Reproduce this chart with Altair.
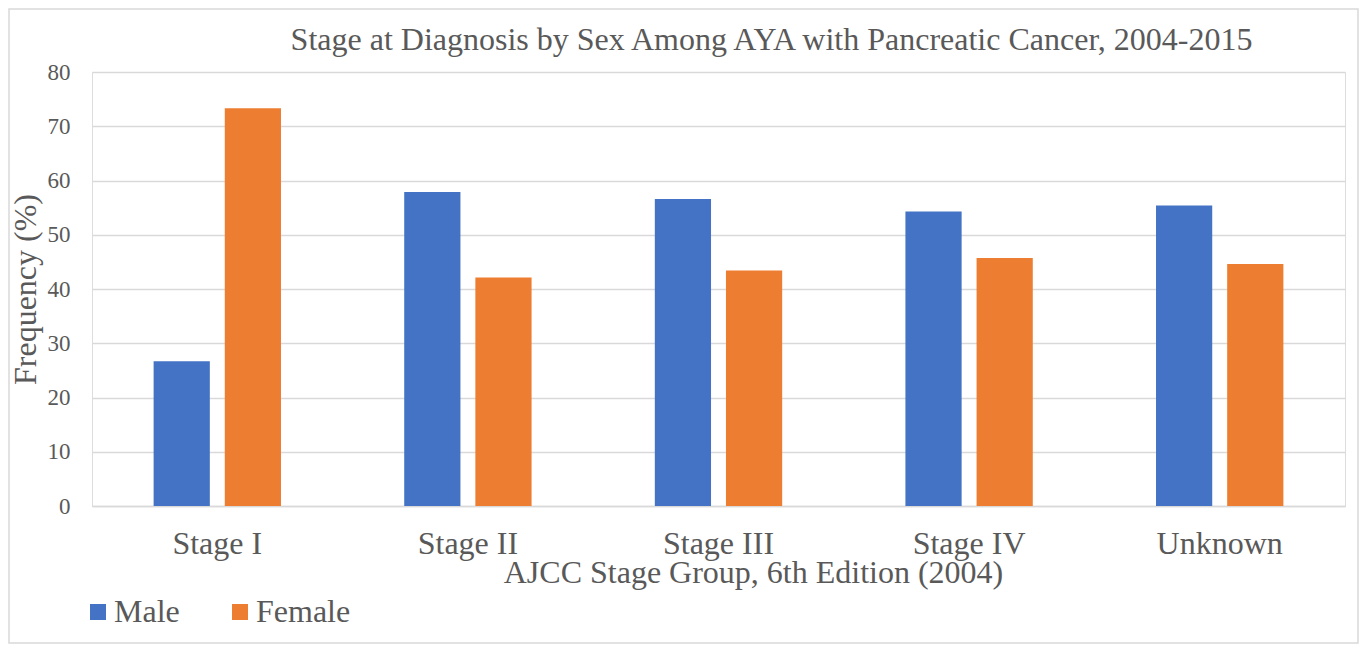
import altair as alt
import pandas as pd

categories = ["Stage I", "Stage II", "Stage III", "Stage IV", "Unknown"]
male = [26.7, 57.9, 56.6, 54.3, 55.4]
female = [73.3, 42.1, 43.4, 45.7, 44.6]
series = ["Male", "Female"]
colors = ["#4472C4", "#ED7D31"]
y_ticks = [0, 10, 20, 30, 40, 50, 60, 70, 80]

rows = []
for c, m, f in zip(categories, male, female):
    rows.append({"stage": c, "sex": "Male", "value": m})
    rows.append({"stage": c, "sex": "Female", "value": f})
df = pd.DataFrame(rows)

FONT = "Liberation Serif"
GREY = "#595959"
W, H = 1253, 434

bars = alt.Chart(df).mark_bar().encode(
    x=alt.X("stage:N", sort=categories,
            scale=alt.Scale(paddingInner=0, paddingOuter=0),
            axis=alt.Axis(title="AJCC Stage Group, 6th Edition (2004)", labelAngle=0,
                          labelFontSize=32, titleFontSize=32, labelPadding=22,
                          titleX=661, titleY=76, titleAlign="center",
                          titleBaseline="alphabetic", titleAnchor="start",
                          ticks=False, domainColor="#d9d9d9",
                          domainWidth=1.5, labelColor=GREY, titleColor=GREY,
                          labelFont=FONT, titleFont=FONT, titleFontWeight="normal")),
    xOffset=alt.XOffset("sex:N", sort=series,
                        scale=alt.Scale(paddingInner=0.21, paddingOuter=0.866)),
    y=alt.Y("value:Q", scale=alt.Scale(domain=[0, 80], nice=False),
            axis=alt.Axis(title="Frequency (%)", values=y_ticks, labelFontSize=23,
                          titleFontSize=32, labelPadding=22, ticks=False, domain=False,
                          gridColor="#d9d9d9", gridWidth=1.5, labelColor=GREY,
                          titleColor=GREY, labelFont=FONT, titleFont=FONT,
                          titleFontWeight="normal", titleX=-67, titleY=217,
                          titleAngle=270, titleAlign="center", titleBaseline="middle",
                          titleAnchor="start")),
    color=alt.Color("sex:N", sort=series,
                    scale=alt.Scale(domain=series, range=colors),
                    legend=alt.Legend(title=None, orient="none", direction="horizontal",
                                      legendX=-10, legendY=524, symbolType="square",
                                      symbolSize=256, symbolStrokeWidth=0,
                                      labelFontSize=32, labelFont=FONT, labelColor=GREY,
                                      labelOffset=0, columnPadding=44)),
)

border = alt.Chart(pd.DataFrame({"k": [0]})).mark_rect(
    filled=False, color="#d9d9d9", strokeWidth=1.5
).encode(
    x=alt.value(-83), x2=alt.value(1266), y=alt.value(-63), y2=alt.value(571)
)

chart = alt.layer(bars, border).properties(
    width=W, height=H,
    title=alt.Title("Stage at Diagnosis by Sex Among AYA with Pancreatic Cancer, 2004-2015",
                    fontSize=32, font=FONT, fontWeight="normal", color=GREY,
                    anchor="middle", dx=53, dy=32, offset=-42, baseline="alphabetic",
                    frame="group"),
    autosize=alt.AutoSizeParams(type="none"),
    padding={"left": 84, "top": 64, "right": 14, "bottom": 138},
).configure_view(stroke=None).configure(background="white")

chart.save("out.html", embed_options={"renderer": "svg", "actions": False})
